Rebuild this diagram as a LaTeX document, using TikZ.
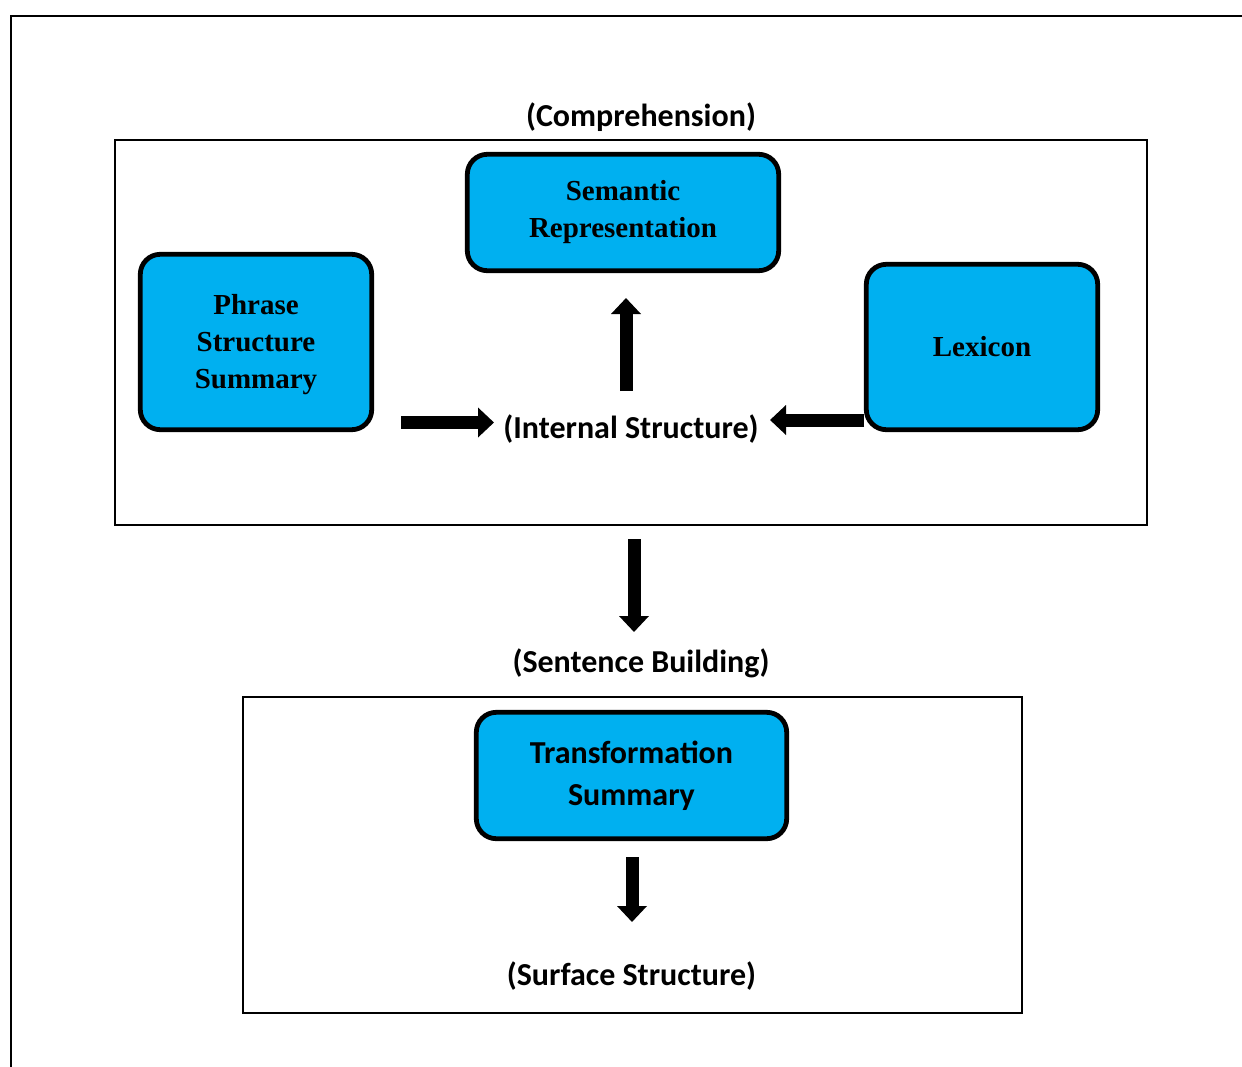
\documentclass[tikz,border=0pt]{standalone}
\usepackage{fontspec}
\setmainfont{Liberation Serif}
\newfontfamily\calibri{Carlito}
\usetikzlibrary{arrows.meta}
\definecolor{boxblue}{RGB}{0,176,240}
\begin{document}
\begin{tikzpicture}[x=0.5pt,y=-0.5pt,
  bluebox/.style={draw=black, line width=2.4pt, fill=boxblue, rounded corners=10pt,
    align=center, inner sep=0pt, font=\bfseries\fontsize{14.5}{18.5}\selectfont},
  framebox/.style={draw=black, line width=0.75pt, inner sep=0pt},
  lbl/.style={font=\calibri\bfseries\fontsize{16}{19}\selectfont, inner sep=1pt},
  blockarrow/.style={line width=6.5pt, -{Triangle[width=14.5pt,length=8pt]}}
]
\useasboundingbox (0,0) rectangle (1242,1066);
\clip (0,0) rectangle (1242,1066);
% outer frame (cut off at right and bottom)
\draw[line width=1pt] (11,1090) |- (1270,16);

% frames
\node[framebox, minimum width=516pt, minimum height=192.5pt] (comp) at (631,332.5) {};
\node[framebox, minimum width=389.5pt, minimum height=158pt] (sent) at (632.5,855) {};

% blue boxes
\node[bluebox, minimum width=155.7pt, minimum height=58.2pt] (sem) at (623,212.5) {Semantic\\Representation};
\node[bluebox, minimum width=115.7pt, minimum height=87.7pt] (phr) at (256,342)
  {\raisebox{-1pt}[\height][\depth]{\begin{tabular}{@{}c@{}}Phrase\\Structure\\Summary\end{tabular}}};
\node[bluebox, minimum width=115.7pt, minimum height=82.7pt] (lex) at (982,347) {Lexicon};
\node[bluebox, font=\calibri\bfseries\fontsize{16}{21}\selectfont,
  minimum width=155.2pt, minimum height=63.2pt] (trans) at (631.5,775.5) {Transformation\\Summary};

% labels
\node[lbl] (comptitle) at (641,117) {(Comprehension)};
\node[lbl] (internal) at (631,429.5) {(Internal Structure)};
\node[lbl] (senttitle) at (641,663.5) {(Sentence Building)};
\node[lbl] (surface) at (631.5,976.5) {(Surface Structure)};

% arrow end points
\coordinate (phrout) at (401,422.5);
\coordinate (intleft) at (494,422.5);
\coordinate (inttop) at (626,391);
\coordinate (semin) at (626,298);
\coordinate (lexout) at (864,420);
\coordinate (intright) at (770,420);
\coordinate (compout) at (634,539);
\coordinate (sentin) at (634,632);
\coordinate (transout) at (632,857);
\coordinate (surfin) at (632,922);

\draw[blockarrow] (phrout) -- (intleft);
\draw[blockarrow] (inttop) -- (semin);
\draw[blockarrow] (lexout) -- (intright);
\draw[blockarrow] (compout) -- (sentin);
\draw[blockarrow] (transout) -- (surfin);
\end{tikzpicture}
\end{document}
